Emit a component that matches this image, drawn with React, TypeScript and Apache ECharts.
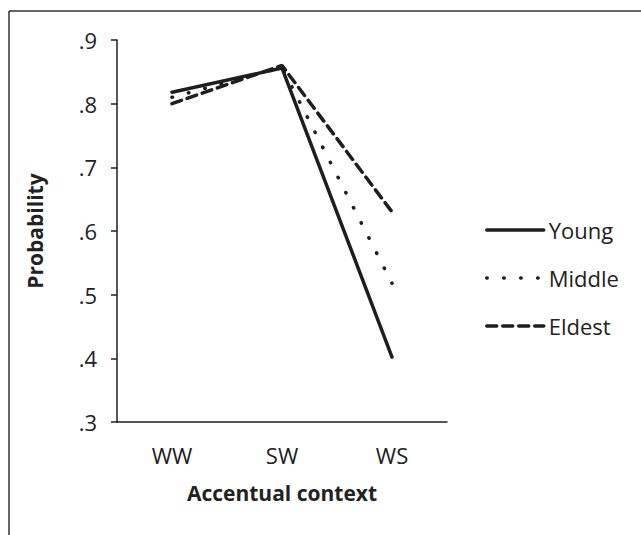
import React, { useEffect, useRef } from "react";
import * as echarts from "echarts";

const categories = ["WW", "SW", "WS"];
const youngValues = [0.818, 0.856, 0.402];
const middleValues = [0.81, 0.857, 0.518];
const eldestValues = [0.8, 0.86, 0.63];
const seriesNames = ["Young", "Middle", "Eldest"];

const FONT = "'Open Sans', 'Noto Sans', sans-serif";
const INK = "#1e1e1e";
const TEXT = "#222222";

export default function App() {
  const ref = useRef<HTMLDivElement>(null);
  useEffect(() => {
    document.body.style.margin = "0";
    const chart = echarts.init(ref.current!, null, { renderer: "svg" });
    chart.setOption({
      animation: false,
      backgroundColor: "#ffffff",
      textStyle: { fontFamily: FONT },
      grid: { left: 117, right: 194, top: 40, bottom: 113 },
      legend: {
        orient: "vertical",
        left: 485,
        top: 219,
        padding: 0,
        itemWidth: 57,
        itemHeight: 4,
        itemGap: 26,
        data: seriesNames,
        itemStyle: { opacity: 0 },
        lineStyle: { width: 3.5 },
        textStyle: { fontFamily: FONT, fontSize: 22, color: TEXT, lineHeight: 20 },
      },
      xAxis: {
        type: "category",
        data: categories,
        boundaryGap: true,
        axisLine: { show: true, lineStyle: { color: INK, width: 1.5 } },
        axisTick: { show: false },
        axisLabel: { fontFamily: FONT, fontSize: 22, color: TEXT, margin: 22 },
        name: "Accentual context",
        nameLocation: "middle",
        nameGap: 60,
        nameTextStyle: { fontFamily: FONT, fontSize: 21, fontWeight: "bold", color: TEXT },
      },
      yAxis: {
        type: "value",
        min: 0.3,
        max: 0.9,
        interval: 0.1,
        splitLine: { show: false },
        axisLine: { show: true, lineStyle: { color: INK, width: 1.5 } },
        axisTick: { show: true, length: 6, inside: false, lineStyle: { color: INK, width: 1.5 } },
        axisLabel: {
          fontFamily: FONT,
          fontSize: 22,
          color: TEXT,
          margin: 20,
          formatter: (v: number) => (Math.round(v * 10) / 10).toFixed(1).replace(/^0/, ""),
        },
        name: "Probability",
        nameLocation: "middle",
        nameGap: 72,
        nameTextStyle: { fontFamily: FONT, fontSize: 21, fontWeight: "bold", color: TEXT },
      },
      series: [
        {
          name: seriesNames[0],
          type: "line",
          data: youngValues,
          symbol: "none",
          itemStyle: { color: INK },
          lineStyle: { color: INK, width: 3.5, type: "solid", cap: "round" },
        },
        {
          name: seriesNames[1],
          type: "line",
          data: middleValues,
          symbol: "none",
          itemStyle: { color: INK },
          lineStyle: { color: INK, width: 3.5, type: [0.5, 16.46], cap: "round" },
        },
        {
          name: seriesNames[2],
          type: "line",
          data: eldestValues,
          symbol: "none",
          itemStyle: { color: INK },
          lineStyle: { color: INK, width: 3.5, type: [10, 6], cap: "round" },
        },
      ],
      graphic: [
        { type: "line", shape: { x1: 9, y1: 11, x2: 641, y2: 11 }, style: { stroke: "#333", lineWidth: 1.5 } },
        { type: "line", shape: { x1: 9, y1: 11, x2: 9, y2: 535 }, style: { stroke: "#333", lineWidth: 1.5 } },
      ],
    });
    return () => chart.dispose();
  }, []);
  return <div ref={ref} style={{ width: 641, height: 535 }} />;
}
